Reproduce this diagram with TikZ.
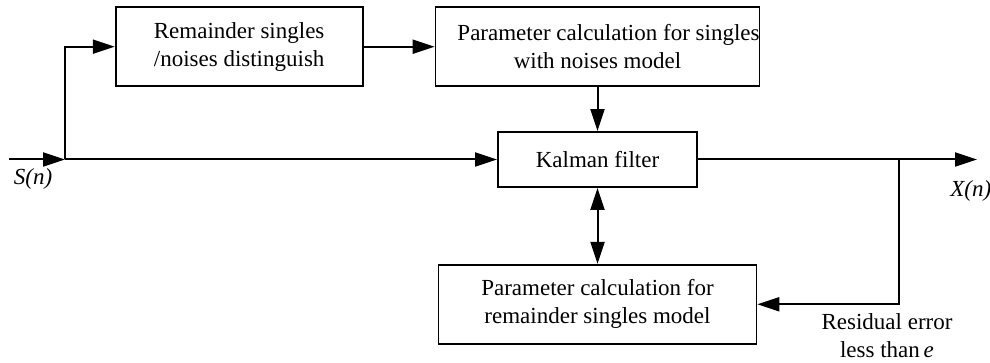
\documentclass[tikz,border=0pt]{standalone}
\usepackage{fontspec}
\setmainfont{Liberation Serif}
\usepackage{tikz}
\usetikzlibrary{arrows.meta,positioning}
\tikzstyle{blk} = [rectangle, draw=black, line width=0.9pt, fill=none, text=black, align=center, inner sep=0pt, font=\fontsize{11.5}{14}\selectfont, minimum width=159pt, minimum height=39.5pt]
\tikzstyle{lbl} = [text=black, align=center, inner sep=0pt, font=\fontsize{11.5}{14}\selectfont]
\tikzstyle{tedge}  = [draw, line width=1pt, >={Triangle[length=11pt,width=7pt]}, ->]

\begin{document}
\begin{tikzpicture}[auto]
\useasboundingbox (0,0) rectangle (495pt,-181.5pt);

% blocks =============================

% filter
\node[blk, minimum width=99.5pt, minimum height=27.5pt] (kf) at (298.75pt,-79.75pt) {Kalman filter};

% upper row
\node[blk, above=22pt of kf] (pcn) {\hspace*{11pt}Parameter calculation for singles\\with noises model};
\node[blk, minimum width=123.5pt, left=35.5pt of pcn] (rsd) {Remainder singles\\/noises distinguish};

% lower block
\node[blk, below=38pt of kf] (pcr) {Parameter calculation for\\remainder singles model};

% signal points
\coordinate (in) at (4.5pt,-79.75pt);
\coordinate (split) at (32.5pt,-79.75pt);
\coordinate (fb) at (449.5pt,-79.75pt);
\coordinate (out) at (488.5pt,-79.75pt);

% labels
\node[lbl] (sn) at (16.5pt,-89.5pt) {\textit{S(n)}};
\node[lbl, anchor=west] (xn) at (475pt,-95.5pt) {\textit{X(n)}};
\node[lbl] (res) at (443.5pt,-168pt) {Residual error\\less than\,\textit{e}};

%edges input side

\path[tedge] (in) -- (split);
\path[tedge] (split) |- (rsd);
\path[tedge] (split) -- (kf);
\path[tedge] (rsd) -- (pcn);
\path[tedge] (pcn) -- (kf);

% edges output side
\path[tedge] (kf) -- (out);
\path[tedge] (fb) |- (pcr);
\path[tedge, <->] (kf) -- (pcr);

\end{tikzpicture}
\end{document}
